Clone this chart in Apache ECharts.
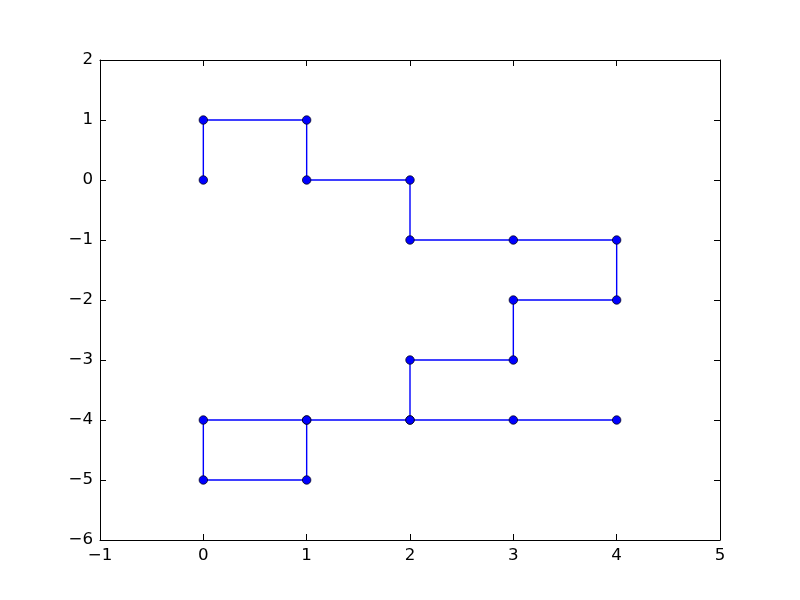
<!DOCTYPE html>
<html>
<head>
<meta charset="utf-8">
<script src="https://cdn.jsdelivr.net/npm/echarts@6/dist/echarts.min.js"></script>
<style>html,body{margin:0;padding:0;background:#fff}#c{width:800px;height:600px}</style>
</head>
<body>
<div id="c"></div>
<script>
var xs = [0, 0, 1, 1, 2, 2, 3, 4, 4, 3, 3, 2, 2, 1, 1, 0, 0, 1, 2, 3, 4];
var ys = [0, 1, 1, 0, 0, -1, -1, -1, -2, -2, -3, -3, -4, -4, -5, -5, -4, -4, -4, -4, -4];
var xTicks = [-1, 0, 1, 2, 3, 4, 5];
var yTicks = [-6, -5, -4, -3, -2, -1, 0, 1, 2];

var pts = xs.map(function (x, i) { return [x, ys[i]]; });
var fmt = function (v) { return String(v).replace('-', '\u2212'); };
var font = { fontFamily: 'DejaVu Sans', fontSize: 16.67, color: '#000' };
var axisBase = function (pos, ticks, show) {
  return {
    type: 'value', position: pos,
    min: ticks[0], max: ticks[ticks.length - 1], interval: 1,
    axisLine: { show: true, onZero: false, lineStyle: { color: '#000', width: 1 } },
    axisTick: { show: true, inside: true, length: 6, lineStyle: { color: '#000', width: 1 } },
    axisLabel: Object.assign({ show: show, margin: 7, formatter: fmt }, font),
    splitLine: { show: false }
  };
};
var chart = echarts.init(document.getElementById('c'), null, { renderer: 'canvas' });
chart.setOption({
  animation: false,
  backgroundColor: '#fff',
  grid: { left: 100, right: 80, top: 60, bottom: 60, containLabel: false },
  xAxis: [axisBase('bottom', xTicks, true), axisBase('top', xTicks, false)],
  yAxis: [axisBase('left', yTicks, true), axisBase('right', yTicks, false)],
  series: [{
    type: 'line',
    data: pts,
    xAxisIndex: 0, yAxisIndex: 0,
    symbol: 'circle', symbolSize: 8.5,
    itemStyle: { color: '#0000ff', borderColor: '#000', borderWidth: 0.7 },
    lineStyle: { color: '#0000ff', width: 1.4 },
    clip: false
  }]
});
</script>
</body>
</html>
